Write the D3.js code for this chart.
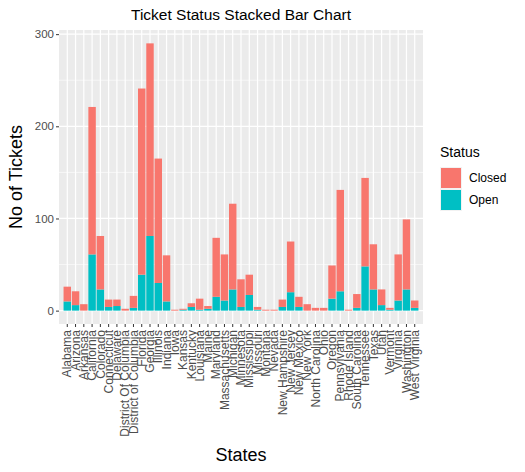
<!DOCTYPE html>
<html><head><meta charset="utf-8">
<script src="https://cdn.jsdelivr.net/npm/d3@7"></script>
<style>body{margin:0;background:#fff;font-family:Arial,"Liberation Sans",sans-serif;}</style>
</head><body><svg id="chart" width="525" height="472"></svg>
<script>
const states = ["Alabama","Arizona","Arkansas","California","Colorado","Connecticut","Delaware",
  "District Of Columbia","District of Columbia","Florida","Georgia","Illinois","Indiana","Iowa",
  "Kansas","Kentucky","Louisiana","Maine","Maryland","Massachusetts","Michigan","Minnesota",
  "Mississippi","Missouri","Montana","Nevada","New Hampshire","New Jersey","New Mexico","New York",
  "North Carolina","Ohio","Oregon","Pennsylvania","Rhode Island","South Carolina","Tennessee",
  "Texas","Utah","Vermont","Virginia","Washington","West Virginia"];
const openVals = [10,6,0,61,23,4,5,0,3,39,81,30,10,0,1,4,1,2,15,11,23,4,17,1,0,0,4,20,4,0,0,0,13,21,0,3,48,23,6,1,11,23,3];
const closedVals = [16,15,7,160,58,8,7,2,13,202,209,135,50,1,1,4,12,3,64,50,93,30,22,3,1,1,8,55,11,7,3,3,36,110,1,15,96,49,17,2,50,76,8];
const yTicks = [0,100,200,300];

const svg = d3.select("#chart");
const pLeft = 59, pRight = 423, pTop = 30, pBottom = 324;
const x = d3.scaleBand().domain(states).range([pLeft, pRight]).paddingInner(0.1).paddingOuter(0.55);
const y = d3.scaleLinear().domain([-14.5, 304.5]).range([pBottom, pTop]);

svg.append("rect").attr("x", pLeft).attr("y", pTop).attr("width", pRight - pLeft).attr("height", pBottom - pTop).attr("fill", "#EBEBEB");
// minor grid
svg.selectAll(".minor").data([50,150,250]).join("line")
  .attr("x1", pLeft).attr("x2", pRight).attr("y1", d => y(d)).attr("y2", d => y(d))
  .attr("stroke", "#fff").attr("stroke-width", 0.6);
svg.selectAll(".major").data(yTicks).join("line")
  .attr("x1", pLeft).attr("x2", pRight).attr("y1", d => y(d)).attr("y2", d => y(d))
  .attr("stroke", "#fff").attr("stroke-width", 1.2);
svg.selectAll(".vgrid").data(states).join("line")
  .attr("x1", d => x(d) + x.bandwidth() / 2).attr("x2", d => x(d) + x.bandwidth() / 2)
  .attr("y1", pTop).attr("y2", pBottom).attr("stroke", "#fff").attr("stroke-width", 1.2);

const rows = states.map((s, i) => ({ s, open: openVals[i], closed: closedVals[i] }));
svg.selectAll(".open").data(rows).join("rect")
  .attr("x", d => x(d.s)).attr("width", x.bandwidth())
  .attr("y", d => y(d.open)).attr("height", d => y(0) - y(d.open)).attr("fill", "#00BFC4");
svg.selectAll(".closed").data(rows).join("rect")
  .attr("x", d => x(d.s)).attr("width", x.bandwidth())
  .attr("y", d => y(d.open + d.closed)).attr("height", d => y(d.open) - y(d.open + d.closed)).attr("fill", "#F8766D");

// y axis
const ya = svg.append("g").attr("transform", `translate(${pLeft},0)`)
  .call(d3.axisLeft(y).tickValues(yTicks).tickSize(3).tickPadding(2));
ya.select(".domain").remove();
ya.selectAll("line").attr("stroke", "#333");
ya.selectAll("text").attr("fill", "#4d4d4d").style("font-size", "11.5px");

// x axis
const xa = svg.append("g").attr("transform", `translate(0,${pBottom})`)
  .call(d3.axisBottom(x).tickSize(3));
xa.select(".domain").remove();
xa.selectAll("line").attr("stroke", "#333");
xa.selectAll("text").attr("fill", "#4d4d4d").style("font-size", "12px")
  .attr("transform", "rotate(-90)").attr("text-anchor", "end")
  .attr("x", -6).attr("y", 0).attr("dy", "0.35em");

svg.append("text").attr("x", (pLeft + pRight) / 2).attr("y", 20).attr("text-anchor", "middle")
  .style("font-size", "15.5px").attr("fill", "#000").text("Ticket Status Stacked Bar Chart");
svg.append("text").attr("transform", `translate(22,${(pTop + pBottom) / 2}) rotate(-90)`)
  .attr("text-anchor", "middle").style("font-size", "18px").text("No of Tickets");
svg.append("text").attr("x", (pLeft + pRight) / 2).attr("y", 461).attr("text-anchor", "middle")
  .style("font-size", "18px").text("States");

// legend
const lg = svg.append("g").attr("transform", "translate(440,145)");
lg.append("text").attr("x", 0).attr("y", 12).style("font-size", "14px").text("Status");
const keys = [["Closed", "#F8766D"], ["Open", "#00BFC4"]];
keys.forEach(([k, c], i) => {
  lg.append("rect").attr("x", 0).attr("y", 22 + i * 22).attr("width", 22).attr("height", 22).attr("fill", "#F2F2F2");
  lg.append("rect").attr("x", 1).attr("y", 23 + i * 22).attr("width", 20).attr("height", 20).attr("fill", c);
  lg.append("text").attr("x", 29).attr("y", 37 + i * 22).style("font-size", "12px").text(k);
});
</script></body></html>
